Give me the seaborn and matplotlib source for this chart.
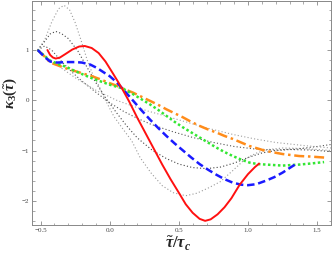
import numpy as np
import pandas as pd
import matplotlib
matplotlib.use("Agg")
import matplotlib.pyplot as plt
import seaborn as sns

red_x = [-0.45, -0.43, -0.41, -0.39, -0.36, -0.32, -0.27, -0.22, -0.18, -0.13, -0.08, -0.03, 0.02, 0.06, 0.09,
         0.14, 0.2, 0.26, 0.32, 0.38, 0.44, 0.5, 0.55, 0.6, 0.65, 0.69, 0.73, 0.78, 0.83, 0.88, 0.94, 1.0, 1.05, 1.08]
red_y = [1.0, 0.9, 0.85, 0.83, 0.85, 0.92, 1.01, 1.07, 1.08, 1.04, 0.94, 0.77, 0.55, 0.37, 0.23,
         -0.02, -0.35, -0.66, -0.97, -1.28, -1.57, -1.84, -2.07, -2.24, -2.36, -2.40, -2.37, -2.27, -2.13, -1.95, -1.68, -1.47, -1.33, -1.26]

blue_x = [-0.52, -0.47, -0.43, -0.38, -0.31, -0.25, -0.2, -0.14, -0.09, -0.04, 0.0, 0.05, 0.09, 0.17, 0.23, 0.29, 0.35,
          0.41, 0.47, 0.53, 0.59, 0.65, 0.71, 0.77, 0.83, 0.89, 0.95, 1.0, 1.06, 1.13, 1.19, 1.25, 1.3, 1.34]
blue_y = [1.0, 0.86, 0.77, 0.75, 0.76, 0.76, 0.75, 0.71, 0.64, 0.55, 0.48, 0.36, 0.24, -0.01, -0.2, -0.38, -0.55,
          -0.71, -0.86, -1.0, -1.14, -1.27, -1.38, -1.48, -1.57, -1.64, -1.68, -1.69, -1.67, -1.60, -1.53, -1.44, -1.35, -1.28]

green_x = [-0.52, -0.47, -0.43, -0.37, -0.31, -0.25, -0.19, -0.13, -0.07, 0.0, 0.05, 0.09, 0.17, 0.23, 0.29, 0.35, 0.41, 0.47,
           0.53, 0.59, 0.65, 0.71, 0.77, 0.83, 0.89, 0.95, 1.01, 1.07, 1.13, 1.19, 1.25, 1.31, 1.37, 1.45, 1.55]
green_y = [1.0, 0.88, 0.79, 0.72, 0.66, 0.58, 0.51, 0.44, 0.38, 0.31, 0.27, 0.24, 0.12, 0.02, -0.08, -0.19, -0.31, -0.43,
           -0.54, -0.64, -0.74, -0.84, -0.94, -1.03, -1.11, -1.18, -1.24, -1.27, -1.28, -1.29, -1.30, -1.29, -1.28, -1.26, -1.23]

orange_x = [-0.52, -0.47, -0.43, -0.37, -0.31, -0.25, -0.19, -0.13, -0.07, 0.0, 0.05, 0.09, 0.17, 0.23, 0.29, 0.35, 0.41, 0.47,
            0.53, 0.59, 0.65, 0.71, 0.77, 0.83, 0.89, 0.95, 1.01, 1.07, 1.13, 1.19, 1.25, 1.31, 1.37, 1.45, 1.55]
orange_y = [1.0, 0.87, 0.75, 0.69, 0.63, 0.58, 0.53, 0.48, 0.42, 0.34, 0.29, 0.24, 0.15, 0.07, -0.01, -0.09, -0.18, -0.26,
            -0.34, -0.43, -0.51, -0.58, -0.64, -0.71, -0.77, -0.84, -0.91, -0.96, -1.01, -1.04, -1.07, -1.09, -1.11, -1.12, -1.14]

# grey dotted reference curves
g1_x = [-0.52, -0.47, -0.42, -0.37, -0.33, -0.29, -0.25, -0.21, -0.16, -0.12, -0.08, -0.03, 0.03, 0.09, 0.16, 0.22,
        0.3, 0.38, 0.46, 0.55, 0.63, 0.71, 0.8, 0.89, 0.96, 1.01, 1.07, 1.15, 1.25, 1.4, 1.6]
g1_y = [1.0, 1.2, 1.55, 1.82, 1.89, 1.8, 1.55, 1.22, 0.78, 0.5, 0.3, 0.0, -0.32, -0.55, -0.81, -1.14,
        -1.45, -1.7, -1.84, -1.9, -1.85, -1.75, -1.62, -1.4, -1.22, -1.12, -1.04, -0.98, -0.95, -0.96, -1.0]
g2_x = [-0.52, -0.47, -0.43, -0.39, -0.35, -0.3, -0.23, -0.16, -0.1, -0.03, 0.05, 0.12, 0.2, 0.31, 0.41, 0.5, 0.6,
        0.7, 0.8, 0.9, 1.0, 1.1, 1.2, 1.3, 1.45, 1.6]
g2_y = [1.0, 1.17, 1.32, 1.37, 1.33, 1.23, 0.98, 0.64, 0.35, 0.05, -0.25, -0.5, -0.75, -1.0, -1.16, -1.27, -1.34,
        -1.36, -1.33, -1.25, -1.14, -1.05, -1.0, -0.98, -0.99, -1.02]
g3_x = [-0.52, -0.47, -0.42, -0.35, -0.28, -0.2, -0.1, 0.0, 0.1, 0.2, 0.3, 0.45, 0.6, 0.75, 0.9, 1.05, 1.2, 1.35, 1.5, 1.6]
g3_y = [1.0, 1.08, 1.0, 0.78, 0.58, 0.38, 0.16, -0.05, -0.22, -0.36, -0.48, -0.62, -0.74, -0.84, -0.92, -0.97, -0.99,
        -0.97, -0.92, -0.88]
g4_x = [-0.52, -0.4, -0.25, -0.1, 0.05, 0.15, 0.27, 0.4, 0.55, 0.7, 0.89, 1.05, 1.2, 1.4, 1.6]
g4_y = [1.0, 0.74, 0.45, 0.2, 0.0, -0.1, -0.21, -0.31, -0.43, -0.55, -0.68, -0.77, -0.84, -0.9, -0.95]

x_ticks = [-0.5, 0.0, 0.5, 1.0, 1.5]
x_ticklabels = ["\u22120.5", "0.0", "0.5", "1.0", "1.5"]
y_ticks = [-2, -1, 0, 1]
y_ticklabels = ["\u22122", "\u22121", "0", "1"]

sns.set_style("white")
plt.rcParams["font.family"] = ["Liberation Serif", "DejaVu Serif"]
plt.rcParams["mathtext.fontset"] = "custom"
plt.rcParams["mathtext.rm"] = "Liberation Serif:bold"
plt.rcParams["mathtext.it"] = "Liberation Serif:italic:bold"
plt.rcParams["mathtext.bf"] = "Liberation Serif:bold"

fig = plt.figure(figsize=(3.32, 2.57), dpi=100)
ax = fig.add_axes([0.097, 0.125, 0.9, 0.872])

greys = [(g1_x, g1_y, "#9a9a9a"), (g2_x, g2_y, "#444444"), (g3_x, g3_y, "#555555"), (g4_x, g4_y, "#a0a0a0")]
for gx, gy, c in greys:
    sns.lineplot(x=gx, y=gy, ax=ax, color=c, lw=0.8, linestyle=(0, (1, 2)), sort=False)

sns.lineplot(x=orange_x, y=orange_y, ax=ax, color="#ff8c1a", lw=1.8, linestyle=(0, (4, 1.5, 1, 1.5)), sort=False)
sns.lineplot(x=green_x, y=green_y, ax=ax, color="#33e633", lw=1.8, linestyle=(0, (1, 1)), sort=False)
sns.lineplot(x=blue_x, y=blue_y, ax=ax, color="#1a1aff", lw=1.8, linestyle=(0, (3, 1.5)), sort=False)
sns.lineplot(x=red_x, y=red_y, ax=ax, color="#ff1010", lw=1.4, sort=False)

ax.set_xlim(-0.56, 1.6)
ax.set_ylim(-2.48, 1.98)
ax.set_xticks(x_ticks)
ax.set_xticklabels(x_ticklabels)
ax.set_yticks(y_ticks)
ax.set_yticklabels(y_ticklabels)
ax.set_xticks(np.arange(-0.5, 1.6, 0.1), minor=True)
ax.set_yticks(np.arange(-2.4, 2.0, 0.2), minor=True)
ax.tick_params(which="both", direction="in", top=True, right=True, bottom=True, left=True,
               color="#888888", labelsize=5, labelcolor="#444444", pad=2)
ax.tick_params(which="major", length=3, width=0.6)
ax.tick_params(which="minor", length=1.8, width=0.5)
ax.tick_params(axis="x", which="both", labeltop=False)
for s in ax.spines.values():
    s.set_color("#888888")
    s.set_linewidth(0.7)

ax.set_xlabel(r"$\tilde{\tau}/\tau_c$", fontsize=12)
ax.set_ylabel(r"$\kappa_3(\tilde{\tau})$", fontsize=11)
ax.xaxis.set_label_coords(0.49, -0.045)
ax.yaxis.set_label_coords(-0.045, 0.59)

fig.savefig("out.png", dpi=100)
